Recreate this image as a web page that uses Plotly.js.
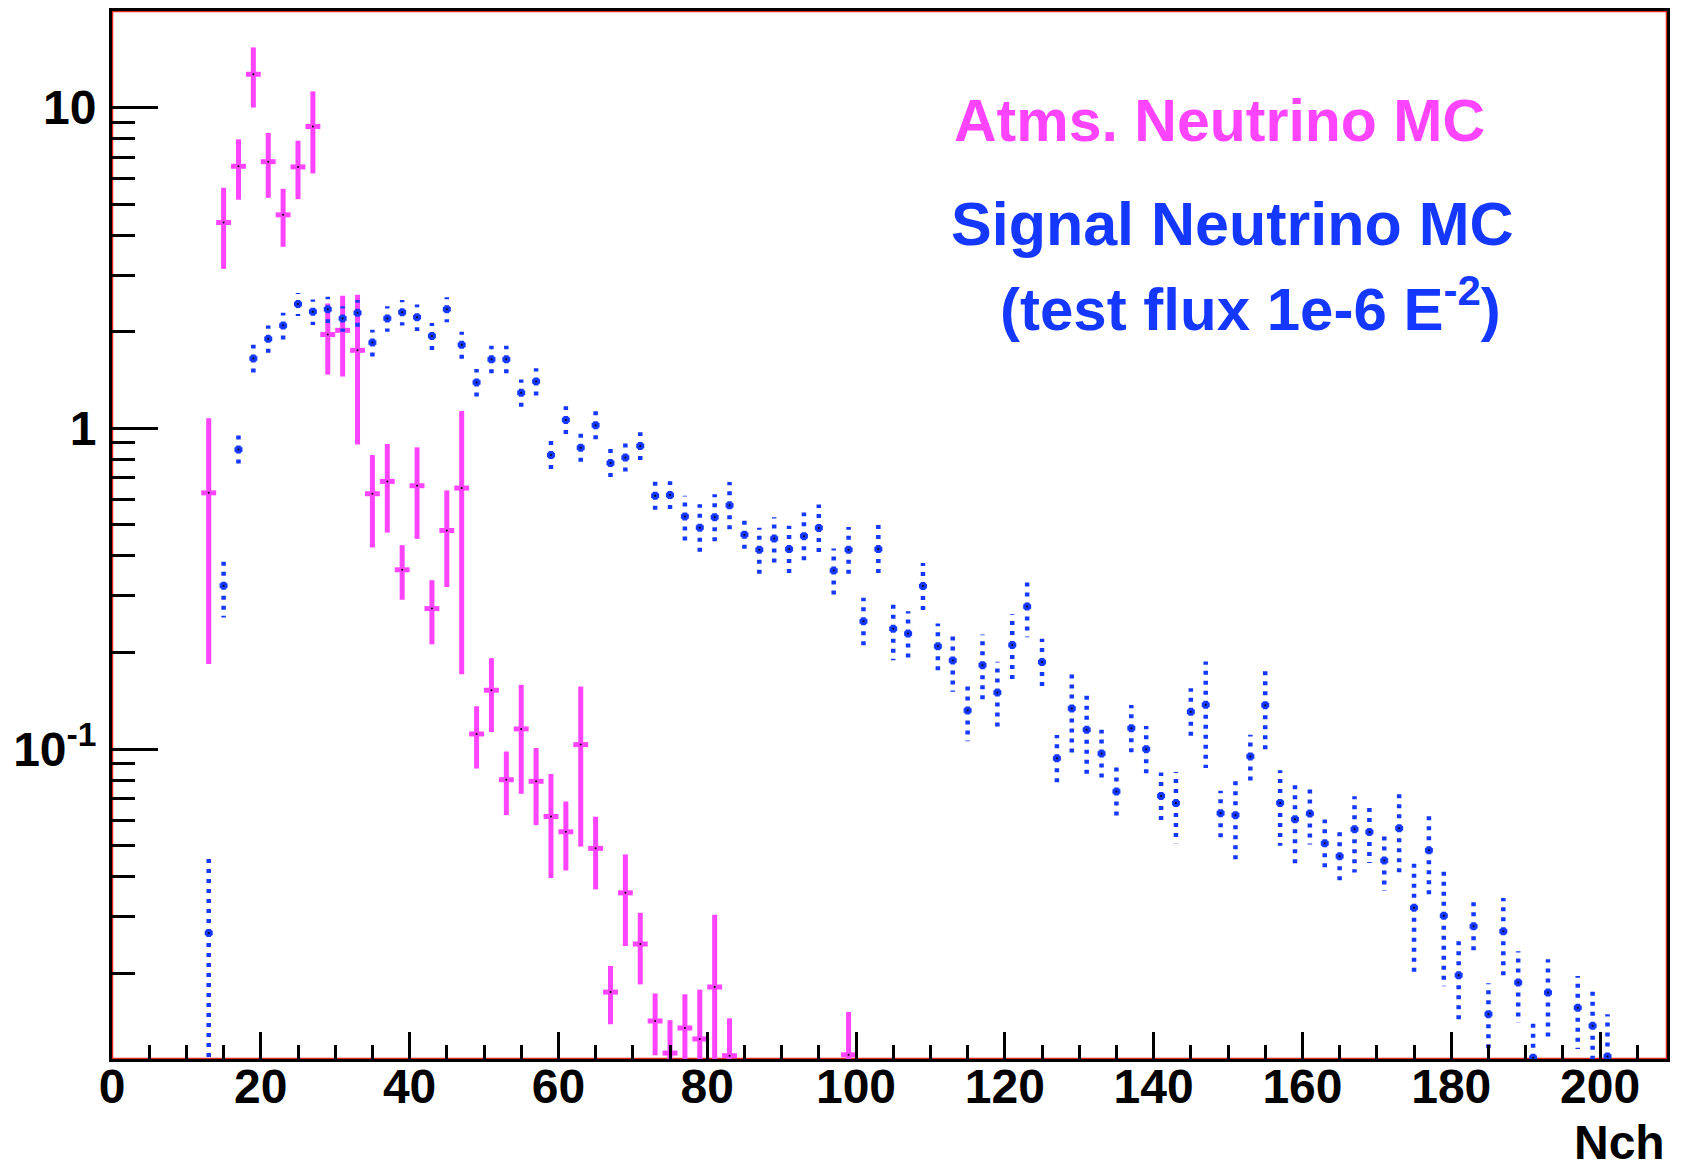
<!DOCTYPE html>
<html>
<head>
<meta charset="utf-8">
<script src="https://cdn.plot.ly/plotly-3.0.1.min.js"></script>
<style>html,body{margin:0;padding:0;background:#fff;}#chart{width:1681px;height:1171px;}</style>
</head>
<body>
<div id="chart"></div>
<script>
// Atmospheric neutrino MC (pink) : bin centre, content, error
const atmX = [13,15,17,19,21,23,25,27,29,31,33,35,37,39,41,43,45,47,49,51,53,55,57,59,61,63,65,67,69,71,73,75,77,79,81,83,99];
const atmY = [0.629,4.38,6.56,12.7,6.78,4.63,6.53,8.73,1.96,2.02,1.75,0.625,0.683,0.362,0.662,0.274,0.480,0.651,0.1114,0.1525,0.0802,0.1155,0.0793,0.0616,0.0552,0.1032,0.0490,0.01746,0.0356,0.02465,0.01419,0.01127,0.01349,0.01247,0.01811,0.01106,0.01113];
const atmE = [0.445,1.24,1.40,2.7,1.55,0.95,1.35,2.5,0.49,0.57,0.86,0.20,0.21,0.07,0.21,0.062,0.16,0.48,0.0245,0.0395,0.018,0.043,0.0214,0.022,0.0134,0.0535,0.0125,0.0036,0.0113,0.0062,0.0031,0.003,0.0037,0.0053,0.0123,0.0034,0.004];

// Signal neutrino MC (blue)
const sigX = [13,15,17,19,21,23,25,27,29,31,33,35,37,39,41,43,45,47,49,51,53,55,57,59,61,63,65,67,69,71,73,75,77,79,81,83,85,87,89,91,93,95,97,99,101,103,105,107,109,111,113,115,117,119,121,123,125,127,129,131,133,135,137,139,141,143,145,147,149,151,153,155,157,159,161,163,165,167,169,171,173,175,177,179,181,183,185,187,189,191,193,197,199,201];
const sigY = [0.0267,0.323,0.858,1.65,1.90,2.09,2.44,2.31,2.35,2.20,2.29,1.85,2.20,2.30,2.22,1.94,2.35,1.82,1.39,1.64,1.64,1.29,1.40,0.825,1.062,0.870,1.022,0.779,0.810,0.881,0.616,0.619,0.531,0.490,0.528,0.575,0.466,0.418,0.453,0.420,0.461,0.489,0.360,0.418,0.250,0.420,0.237,0.229,0.322,0.209,0.1888,0.1318,0.1826,0.150,0.211,0.278,0.1866,0.0935,0.1338,0.1148,0.0968,0.0737,0.1161,0.0999,0.0714,0.0678,0.1306,0.1373,0.0631,0.0622,0.0948,0.137,0.0679,0.0604,0.0629,0.0508,0.0463,0.0562,0.0551,0.0449,0.0566,0.0320,0.0483,0.0302,0.0197,0.028,0.0149,0.027,0.0187,0.0109,0.0174,0.0156,0.0137,0.011];
const sigE = [0.019,0.066,0.1,0.17,0.19,0.2,0.2,0.21,0.22,0.2,0.22,0.18,0.2,0.21,0.21,0.19,0.21,0.18,0.14,0.17,0.17,0.13,0.14,0.09,0.11,0.1,0.11,0.085,0.1,0.09,0.065,0.065,0.085,0.09,0.095,0.105,0.05,0.072,0.075,0.077,0.085,0.09,0.062,0.074,0.046,0.08,0.048,0.04,0.058,0.037,0.038,0.026,0.045,0.037,0.052,0.055,0.034,0.017,0.037,0.032,0.018,0.014,0.021,0.018,0.013,0.017,0.024,0.05,0.011,0.018,0.016,0.038,0.018,0.017,0.0125,0.0095,0.0088,0.015,0.011,0.0088,0.016,0.0125,0.0136,0.012,0.0055,0.0053,0.0037,0.0073,0.0047,0.003,0.0047,0.004,0.0045,0.0039];

const yMajor = [0.1, 1, 10];
const yMajorText = ['10<sup>-1</sup>', '1', '10'];
const yMinor = [0.02,0.03,0.04,0.05,0.06,0.07,0.08,0.09,0.2,0.3,0.4,0.5,0.6,0.7,0.8,0.9,2,3,4,5,6,7,8,9,20];

const PINK = '#ff44ff';
const BLUE = '#1438ff';
const FONT = 'Liberation Sans, Arial, Helvetica, sans-serif';
const BIN_HALF = 1;

// dotted error segments for the signal histogram (drawn from the centre outward, as ROOT does)
const ex = [], ey = [];
for (let i = 0; i < sigX.length; i++) {
  const x = sigX[i], y = sigY[i], e = sigE[i];
  ex.push(x, x, null); ey.push(y, y + e, null);
  ex.push(x, x, null); ey.push(y, Math.max(y - e, 1e-5), null);
  ex.push(x, x - BIN_HALF, null); ey.push(y, y, null);
  ex.push(x, x + BIN_HALF, null); ey.push(y, y, null);
}

const traces = [
  {
    x: atmX, y: atmY, type: 'scatter', mode: 'markers',
    marker: {color: 'black', size: 2},
    error_y: {type: 'data', array: atmE, visible: true, color: PINK, thickness: 5, width: 0},
    error_x: {type: 'constant', value: BIN_HALF, visible: true, color: PINK, thickness: 5, width: 0},
    hoverinfo: 'x+y'
  },
  {
    x: ex, y: ey, type: 'scatter', mode: 'lines',
    line: {color: BLUE, width: 4.5, dash: '4px,6px'},
    hoverinfo: 'skip', connectgaps: false
  },
  {
    x: sigX, y: sigY, type: 'scatter', mode: 'markers',
    marker: {color: BLUE, size: 6, symbol: 'square'},
    hoverinfo: 'x+y'
  },
  {
    x: sigX, y: sigY, type: 'scatter', mode: 'markers',
    marker: {color: 'black', size: 2},
    hoverinfo: 'skip'
  }
];

const tickFont = {family: FONT, size: 48, color: 'black', weight: 'bold'};

const layout = {
  width: 1681, height: 1171,
  margin: {l: 112, r: 14, t: 11, b: 112},
  paper_bgcolor: 'white', plot_bgcolor: 'white',
  showlegend: false,
  xaxis: {
    range: [0, 209], tick0: 0, dtick: 20, tickmode: 'linear',
    ticks: 'inside', ticklen: 27, tickwidth: 3, tickcolor: 'black',
    minor: {dtick: 5, tick0: 0, ticks: 'inside', ticklen: 14, tickwidth: 3, tickcolor: 'black'},
    showline: true, linecolor: 'black', linewidth: 3, mirror: true,
    showgrid: false, zeroline: false,
    tickfont: tickFont, ticklabelstandoff: -17
  },
  yaxis: {
    type: 'log', range: [Math.log10(0.0108), Math.log10(20)],
    tickmode: 'array', tickvals: yMajor, ticktext: yMajorText,
    ticks: 'inside', ticklen: 46, tickwidth: 3, tickcolor: 'black',
    minor: {tickmode: 'array', tickvals: yMinor, ticks: 'inside', ticklen: 23, tickwidth: 3, tickcolor: 'black', showgrid: false},
    showline: true, linecolor: 'black', linewidth: 3, mirror: true,
    showgrid: false, zeroline: false,
    tickfont: tickFont, ticklabelstandoff: 3
  },
  shapes: [
    {type: 'rect', xref: 'paper', yref: 'paper', x0: 0, x1: 1, y0: 0, y1: 1,
     line: {color: '#e8261c', width: 2.5}, layer: 'below'}
  ],
  annotations: [
    {xref: 'paper', yref: 'paper', x: 0.5402, y: 0.895, xanchor: 'left', yanchor: 'middle',
     text: 'Atms. Neutrino MC', showarrow: false,
     font: {family: FONT, size: 59, color: PINK, weight: 'bold'}},
    {xref: 'paper', yref: 'paper', x: 0.5383, y: 0.797, xanchor: 'left', yanchor: 'middle',
     text: 'Signal Neutrino MC', showarrow: false,
     font: {family: FONT, size: 61, color: BLUE, weight: 'bold'}},
    {xref: 'paper', yref: 'paper', x: 0.5698, y: 0.7195, xanchor: 'left', yanchor: 'middle',
     text: '(test flux 1e-6 E<sup>-2</sup>)', showarrow: false,
     font: {family: FONT, size: 60, color: BLUE, weight: 'bold'}},
    {xref: 'paper', yref: 'paper', x: 1.0, y: -0.08, xanchor: 'right', yanchor: 'middle',
     text: 'Nch', showarrow: false,
     font: {family: FONT, size: 48, color: 'black', weight: 'bold'}}
  ]
};

Plotly.newPlot('chart', traces, layout, {displayModeBar: false, staticPlot: true});
</script>
</body>
</html>
